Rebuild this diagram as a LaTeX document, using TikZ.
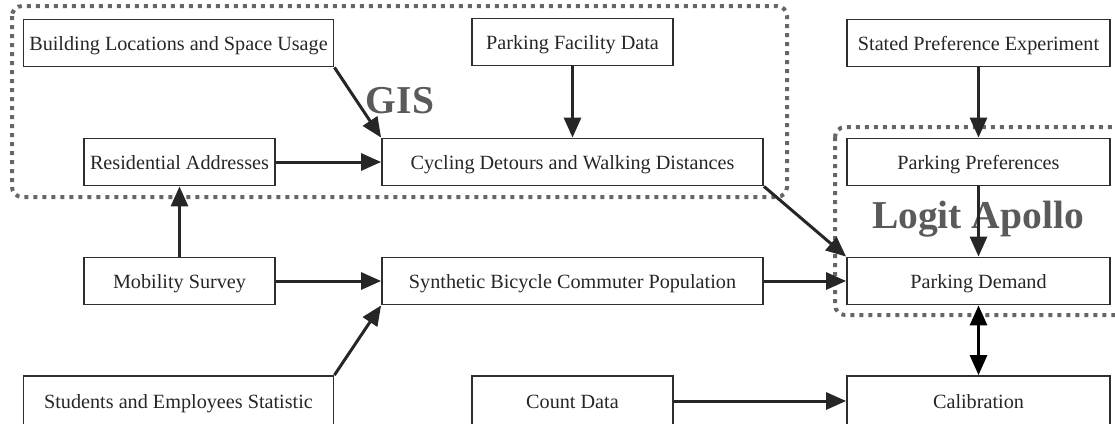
\documentclass[tikz,border=0pt]{standalone}
\usepackage{fontspec}
\setmainfont{Liberation Serif}
\usepackage{xcolor}
\usepackage{tikz}
\usetikzlibrary{arrows.meta}

\definecolor{boxline}{HTML}{2E2E2E}
\definecolor{arrowline}{HTML}{262626}
\definecolor{regionline}{HTML}{666666}
\definecolor{regiontext}{HTML}{5A5A5A}

\tikzset{
  databox/.style={draw=boxline, line width=1.8pt, text=arrowline,
    minimum height=47pt, inner sep=0pt, text height=15pt, text depth=0pt,
    font=\fontsize{20.2}{23}\selectfont},
  flow/.style={draw=arrowline, line width=3pt,
    -{Triangle[length=20pt,width=17pt]}},
  region/.style={draw=regionline, line width=4pt, dash pattern=on 4pt off 5pt,
    rounded corners=10pt},
  regionlabel/.style={text=regiontext, font=\fontsize{39.5}{42}\selectfont\bfseries}
}

\begin{document}
\begin{tikzpicture}[x=1pt,y=-1pt]
\useasboundingbox (0,0) rectangle (1115,423);
% tool regions
\draw [region] (12,6) rectangle (787,197);
\draw [region] (835,127) rectangle (1130,315);
\node [regionlabel] (gis) at (400,101) {GIS};
\node [regionlabel] (logit) at (978,219) {Logit Apollo};
% inputs
\node [databox, minimum width=310pt] (bld) at (178.5,43) {Building Locations and Space Usage};
\node [databox, minimum width=201pt] (pfd) at (572.5,42) {Parking Facility Data};
\node [databox, minimum width=263pt] (spe) at (978.5,43) {Stated Preference Experiment};
\node [databox, minimum width=191pt] (res) at (179.5,162) {Residential Addresses};
\node [databox, minimum width=381pt] (cyc) at (572.5,162) {Cycling Detours and Walking Distances};
\node [databox, minimum width=263pt] (ppr) at (978.5,162) {Parking Preferences};
\node [databox, minimum width=191pt] (mob) at (179.5,281) {Mobility Survey};
\node [databox, minimum width=381pt] (syn) at (572.5,281) {Synthetic Bicycle Commuter Population};
\node [databox, minimum width=263pt] (pdm) at (978.5,281) {Parking Demand};
\node [databox, minimum width=310pt, minimum height=50pt] (stu) at (178.5,401) {Students and Employees Statistic};
\node [databox, minimum width=201pt, minimum height=50pt] (cnt) at (572.5,401) {Count Data};
\node [databox, minimum width=263pt, minimum height=50pt] (cal) at (978.5,401) {Calibration};
% flows
\draw [flow] (bld.south east) -- (cyc.north west);
\draw [flow] (pfd.south) -- (cyc.north);
\draw [flow] (res.east) -- (cyc.west);
\draw [flow] (mob.north) -- (res.south);
\draw [flow] (mob.east) -- (syn.west);
\draw [flow] (stu.north east) -- (syn.south west);
\draw [flow] (cyc.south east) -- (pdm.north west);
\draw [flow] (syn.east) -- (pdm.west);
\draw [flow] (spe.south) -- (ppr.north);
\draw [flow] (ppr.south) -- (pdm.north);
\draw [flow] (cnt.east) -- (cal.west);
\draw [flow, draw=black, {Triangle[length=20pt,width=17pt]}-{Triangle[length=20pt,width=17pt]}] (pdm.south) -- (cal.north);
\end{tikzpicture}
\end{document}
